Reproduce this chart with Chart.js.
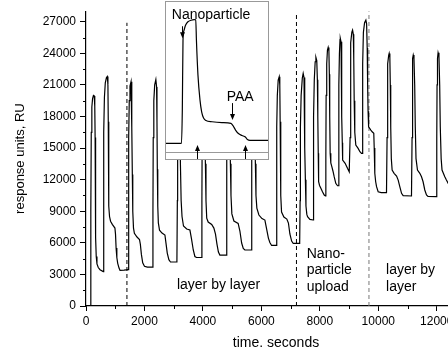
<!DOCTYPE html>
<html>
<head>
<meta charset="utf-8">
<script src="https://cdn.jsdelivr.net/npm/chart.js@4.4.1/dist/chart.umd.min.js"></script>
<style>
  html, body { margin: 0; padding: 0; overflow: hidden; background: #fff; }
  #wrap { position: relative; width: 466px; height: 349px; }
  #inset {
    position: absolute; left: 165px; top: 1px; width: 104px; height: 159px;
    box-sizing: border-box; border: 1px solid #999; background: #fff;
  }
</style>
</head>
<body>
<div id="wrap">
  <canvas id="sensorgram" width="466" height="349"></canvas>
  <div id="inset"><canvas id="zoomed" width="102" height="157"></canvas></div>
</div>
<script>
/* ============================================================
   SPR sensorgram — layer by layer / nanoparticle upload
   ============================================================ */

// Main trace: time (s) and response (RU)
const timeSec = [
  0, 150, 165, 180, 200, 225, 255, 282, 300, 312, 322, 335, 350, 375, 420, 480, 590,
  600, 612, 630, 660, 700, 730, 750, 762, 772, 785, 805, 840, 900, 990, 1010, 1030, 1055, 1085, 1130, 1165, 1300, 1440,
  1455, 1465, 1480, 1505, 1540, 1560, 1572, 1585, 1600, 1625, 1655, 1745, 1830, 1860, 1895, 1940, 2000, 2100, 2275,
  2290, 2300, 2320, 2350, 2390, 2415, 2428, 2440, 2455, 2475, 2515, 2600, 2700, 2735, 2780, 2835, 2890, 3110,
  3125, 3135, 3150, 3170, 3195, 3210, 3230, 3255, 3285, 3335, 3445, 3555, 3605, 3670, 3725, 3780, 3950,
  3965, 3975, 3995, 4020, 4045, 4060, 4085, 4105, 4130, 4180, 4300, 4375, 4430, 4480, 4530, 4580, 4795,
  4810, 4820, 4840, 4870, 4895, 4910, 4940, 4960, 4990, 5060, 5205, 5265, 5325, 5380, 5435, 5650,
  5665, 5675, 5695, 5725, 5750, 5765, 5795, 5815, 5845, 5915, 6020, 6120, 6180, 6240, 6290, 6350, 6505,
  6520, 6530, 6545, 6575, 6610, 6630, 6642, 6655, 6670, 6690, 6770, 6870, 6925, 6975, 7035, 7090, 7310,
  7325, 7335, 7360, 7400, 7430, 7458, 7475, 7490, 7505, 7525, 7555, 7580, 7660, 7770,
  7780, 7790, 7810, 7840, 7865, 7895, 7915, 7930, 7945, 7958, 7990, 8035, 8090, 8150, 8190,
  8205, 8215, 8235, 8260, 8285, 8310, 8325, 8338, 8353, 8375, 8410, 8450, 8490, 8545, 8605, 8635,
  8645, 8655, 8670, 8690, 8700, 8725, 8740, 8755, 8768, 8780, 8865, 8945, 9005, 9025,
  9035, 9045, 9065, 9095, 9120, 9145, 9160, 9175, 9195, 9230, 9310, 9370, 9425, 9450,
  9460, 9470, 9490, 9530, 9575, 9600, 9620, 9635, 9650, 9668, 9745, 9790, 9845, 9860, 9880, 9910, 9940, 9995, 10100, 10280,
  10300, 10310, 10330, 10355, 10372, 10395, 10410, 10425, 10445, 10473, 10540, 10625, 10680, 10735, 10795, 10850, 11135,
  11155, 11165, 11180, 11195, 11220, 11245, 11265, 11290, 11340, 11420, 11478, 11532, 11590, 11648, 11700, 11990,
  12000, 12010, 12025, 12045, 12075, 12100, 12120, 12150, 12180, 12275, 12330, 12400, 12500, 12600,
];

const responseRU = [
  0, 0, 9000, 16500, 18900, 19700, 20000, 19950, 19000, 16000, 11000, 6500, 4700, 4000, 3650, 3450, 3270,
  9000, 16500, 19800, 21200, 21700, 21800, 21000, 17500, 13000, 9500, 8500, 8050, 7750, 7400, 6800, 5500, 4600, 4050, 3600, 3380, 3400, 3460,
  9000, 16000, 19500, 20900, 21300, 20500, 17000, 12500, 9000, 7400, 6900, 6550, 6320, 5850, 4900, 4100, 3780, 3700, 3700,
  9000, 16000, 19500, 21000, 21500, 20800, 17500, 13000, 9500, 7900, 7200, 6930, 6740, 6000, 5030, 4400, 4180, 4180,
  10000, 17000, 20500, 21900, 20800, 17500, 13500, 10000, 8500, 7600, 7310, 7215, 6450, 5320, 4700, 4605, 4605,
  10000, 17000, 20800, 22200, 21000, 17500, 13500, 10000, 8350, 7975, 7740, 7400, 6830, 5880, 5130, 4840, 4840,
  10000, 17000, 20800, 22400, 21200, 17500, 13500, 10500, 8750, 8070, 7850, 7120, 5980, 5460, 5320, 5320,
  10000, 17000, 21000, 22600, 21300, 17500, 13500, 10500, 9300, 8640, 8300, 8160, 7310, 6450, 6030, 5750, 5750,
  10000, 17000, 20000, 21450, 21770, 21000, 17500, 13500, 10500, 8930, 8450, 8260, 7880, 6840, 6170, 5940, 5940,
  10000, 17000, 20000, 21650, 22090, 21700, 19500, 15000, 12000, 9500, 8700, 8480, 8230, 8170,
  12000, 18000, 21500, 23200, 23610, 23300, 21500, 18000, 14500, 11800, 11450, 11180, 10850, 10540, 10450,
  14000, 20000, 23000, 24300, 24560, 24200, 22000, 18000, 14500, 13600, 13230, 12800, 12280, 11650, 11420, 11420,
  15000, 21000, 24000, 25300, 25420, 25100, 22500, 18000, 15500, 13860, 13550, 13080, 12750, 12750,
  16000, 22000, 25000, 26000, 26200, 25800, 23500, 19500, 16500, 15290, 14970, 14650, 14500, 14500,
  18000, 23000, 26000, 26900, 27150, 26800, 24500, 21000, 18500, 17020, 16710, 16550, 16400, 15000, 12600, 11800, 11330, 10850, 10770, 10760,
  16000, 21000, 23000, 23800, 23990, 23600, 21000, 17000, 14000, 12910, 12600, 12340, 11960, 11330, 10700, 10480, 10450,
  16000, 21000, 23500, 23830, 23500, 21000, 17000, 14000, 12910, 12600, 12280, 11800, 11020, 10540, 10400, 10380,
  16000, 21000, 23500, 24050, 23700, 21000, 17000, 14000, 12910, 12280, 11960, 11600, 11300, 11100,
];

// Phase boundaries (dashed lines)
const dividerTimes = [1400, 7200, 9680];
const dividerTops = [26900, 27800, 28000];
const dividerColors = ['#000', '#000', '#777'];

// Axis ticks
const xTickValues = [0, 2000, 4000, 6000, 8000, 10000, 12000];
const yTickValues = [0, 3000, 6000, 9000, 12000, 15000, 18000, 21000, 24000, 27000];

// Inset: one nanoparticle + PAA cycle, time (s) and relative response (RU)
const insetTime = [
  0, 91, 96, 100, 106, 115, 129, 147, 165, 175, 179, 188, 200, 210, 221, 235, 271, 329, 382,
  394, 409, 426, 447, 467, 479, 494, 600,
];
const insetRU = [
  840, 840, 4170, 11170, 12170, 12670, 13020, 13170, 13240, 13220, 11170, 7670, 5170, 3970, 3370, 3120, 3000, 2920, 2840,
  2620, 2170, 1820, 1620, 1470, 1220, 1140, 1140,
];

// Text placed in data units
const mainNotes = [
  { text: 'layer by layer', t: 4534, ru: 1945, align: 'center' },
  { text: 'Nano-', t: 7552, ru: 4885, align: 'left' },
  { text: 'particle', t: 7552, ru: 3400, align: 'left' },
  { text: 'upload', t: 7552, ru: 1820, align: 'left' },
  { text: 'layer by', t: 10266, ru: 3400, align: 'left' },
  { text: 'layer', t: 10266, ru: 1820, align: 'left' },
];

const insetNotes = [
  { text: 'Nanoparticle', t: 34, ru: 13685 },
  { text: 'PAA', t: 357, ru: 5480 },
];

// Arrows in the inset: from (t, ruFrom) to (t, ruTo)
const insetArrows = [
  { t: 92, ruFrom: 12570, ruTo: 11370 },
  { t: 386, ruFrom: 4870, ruTo: 3170 },
  { t: 181, ruFrom: -730, ruTo: 670 },
  { t: 465, ruFrom: -730, ruTo: 670 },
];

const FONT = '"Liberation Sans", Arial, Helvetica, sans-serif';

Chart.defaults.font.family = FONT;
Chart.defaults.color = '#000';

// ─── Plugins ──────────────────────────────────────────────────────────────────

// small unlabeled ticks halfway between the labeled ones
const minorTicks = {
  id: 'minorTicks',
  afterDraw(chart) {
    const { ctx, scales: { x, y } } = chart;
    ctx.save();
    ctx.strokeStyle = '#000';
    ctx.lineWidth = 1;
    ctx.beginPath();
    yTickValues.forEach((v, i) => {
      const next = yTickValues[i + 1] ?? v + (v - yTickValues[i - 1]);
      const py = Math.round(y.getPixelForValue((v + next) / 2)) + 0.5;
      if (py < y.top) return;
      ctx.moveTo(x.left - 3, py);
      ctx.lineTo(x.left, py);
    });
    xTickValues.forEach((v, i) => {
      const next = xTickValues[i + 1] ?? v + (v - xTickValues[i - 1]);
      const px = Math.round(x.getPixelForValue((v + next) / 2)) + 0.5;
      if (px > x.right) return;
      ctx.moveTo(px, y.bottom);
      ctx.lineTo(px, y.bottom + 3);
    });
    ctx.stroke();
    ctx.restore();
  },
};

const mainLabels = {
  id: 'mainLabels',
  afterDatasetsDraw(chart) {
    const { ctx, scales: { x, y } } = chart;
    ctx.save();
    ctx.font = `14px ${FONT}`;
    ctx.fillStyle = '#000';
    ctx.textBaseline = 'middle';
    mainNotes.forEach(n => {
      ctx.textAlign = n.align;
      ctx.fillText(n.text, x.getPixelForValue(n.t), y.getPixelForValue(n.ru));
    });
    ctx.restore();
  },
};

const insetDecor = {
  id: 'insetDecor',
  afterDatasetsDraw(chart) {
    const { ctx, chartArea, scales: { x, y } } = chart;
    ctx.save();
    // inner axis line
    ctx.strokeStyle = '#999';
    ctx.lineWidth = 1;
    ctx.beginPath();
    ctx.moveTo(chartArea.left, Math.round(chartArea.bottom) + 0.5);
    ctx.lineTo(chartArea.right, Math.round(chartArea.bottom) + 0.5);
    ctx.stroke();

    // arrows
    ctx.strokeStyle = '#000';
    ctx.fillStyle = '#000';
    insetArrows.forEach(a => {
      const px = Math.round(x.getPixelForValue(a.t)) + 0.5;
      const y0 = y.getPixelForValue(a.ruFrom);
      const y1 = y.getPixelForValue(a.ruTo);
      const dir = y1 > y0 ? 1 : -1;
      ctx.beginPath();
      ctx.moveTo(px, y0);
      ctx.lineTo(px, y1 - dir * 3);
      ctx.stroke();
      ctx.beginPath();
      ctx.moveTo(px, y1);
      ctx.lineTo(px - 2.5, y1 - dir * 6);
      ctx.lineTo(px + 2.5, y1 - dir * 6);
      ctx.closePath();
      ctx.fill();
    });

    // labels
    ctx.font = `14px ${FONT}`;
    ctx.textBaseline = 'middle';
    ctx.textAlign = 'left';
    insetNotes.forEach(n => {
      ctx.fillText(n.text, x.getPixelForValue(n.t), y.getPixelForValue(n.ru));
    });
    ctx.restore();
  },
};

// ─── Main chart ───────────────────────────────────────────────────────────────

function renderMainChart() {
  const trace = timeSec.map((t, i) => ({ x: t, y: responseRU[i] }));

  const dividers = dividerTimes.map((t, i) => ({
    data: [{ x: t, y: 0 }, { x: t, y: dividerTops[i] }],
    borderColor: dividerColors[i],
    borderWidth: 1,
    borderDash: [4, 3],
    pointRadius: 0,
  }));

  new Chart(document.getElementById('sensorgram'), {
    type: 'line',
    data: {
      datasets: [
        {
          data: trace,
          borderColor: '#000',
          borderWidth: 1.2,
          pointRadius: 0,
          tension: 0,
        },
        ...dividers,
      ],
    },
    options: {
      responsive: false,
      animation: false,
      events: [],
      layout: { padding: { top: 11, right: 0, bottom: 0, left: 0 } },
      plugins: { legend: { display: false }, tooltip: { enabled: false } },
      scales: {
        x: {
          type: 'linear',
          min: 0,
          max: 13000,
          grid: { drawOnChartArea: false, tickLength: 5, tickColor: '#000' },
          border: { color: '#000', width: 1.2 },
          afterBuildTicks: scale => { scale.ticks = xTickValues.map(v => ({ value: v })); },
          ticks: {
            autoSkip: false,
            maxRotation: 0,
            padding: 3,
            font: { size: 12 },
            callback: v => String(v),
          },
          title: {
            display: true,
            text: 'time. seconds',
            font: { size: 14, lineHeight: 0.78 },
            padding: 0,
          },
          afterFit: scale => { scale.height = 43; },
        },
        y: {
          min: 0,
          max: 28000,
          grid: { drawOnChartArea: false, tickLength: 6, tickColor: '#000' },
          border: { color: '#000', width: 1.2 },
          afterBuildTicks: scale => { scale.ticks = yTickValues.map(v => ({ value: v })); },
          ticks: {
            autoSkip: false,
            padding: 4,
            font: { size: 12 },
            callback: v => String(v),
          },
          title: {
            display: true,
            text: 'response units, RU',
            font: { size: 13, lineHeight: 1.2 },
            padding: { top: 13, bottom: 0 },
          },
          afterFit: scale => { scale.width = 86; },
        },
      },
    },
    plugins: [minorTicks, mainLabels],
  });
}

// ─── Inset chart ──────────────────────────────────────────────────────────────

function renderInsetChart() {
  const trace = insetTime.map((t, i) => ({ x: t, y: insetRU[i] }));

  new Chart(document.getElementById('zoomed'), {
    type: 'line',
    data: {
      datasets: [{
        data: trace,
        borderColor: '#000',
        borderWidth: 1.2,
        pointRadius: 0,
        cubicInterpolationMode: 'monotone',
        clip: false,
      }],
    },
    options: {
      responsive: false,
      animation: false,
      events: [],
      layout: { padding: { top: 0, right: 0, bottom: 7.3, left: 0 } },
      plugins: { legend: { display: false }, tooltip: { enabled: false } },
      scales: {
        x: { type: 'linear', min: 0, max: 600, display: false },
        y: { min: 0, max: 15000, display: false },
      },
    },
    plugins: [insetDecor],
  });
}

// ─── Boot ──────────────────────────────────────────────────────────────────────

renderMainChart();
renderInsetChart();
</script>
</body>
</html>
